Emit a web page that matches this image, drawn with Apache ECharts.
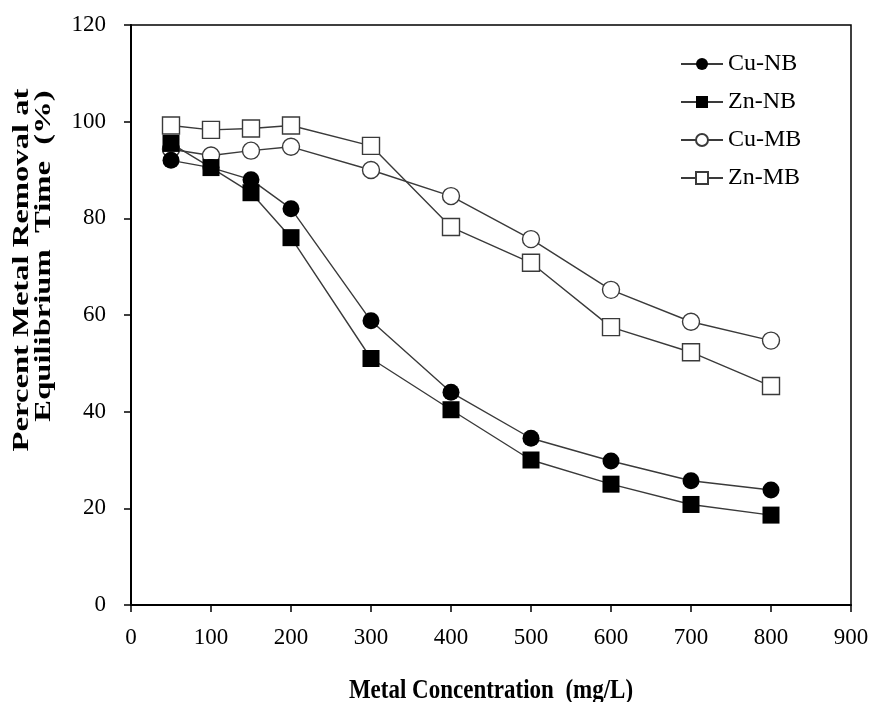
<!DOCTYPE html>
<html>
<head>
<meta charset="utf-8">
<script src="https://cdn.jsdelivr.net/npm/echarts@6/dist/echarts.min.js"></script>
<style>html,body{margin:0;padding:0;background:#fff;}#c{width:873px;height:702px;}</style>
</head>
<body>
<div id="c"></div>
<script>
const concentrations = [50, 100, 150, 200, 300, 400, 500, 600, 700, 800];
const cuNB = [92, 90.5, 88, 82, 58.8, 44, 34.5, 29.8, 25.7, 23.8];
const znNB = [95.5, 90.5, 85.3, 76, 51, 40.4, 30, 25, 20.8, 18.6];
const cuMB = [94.3, 93, 94, 94.8, 90, 84.6, 75.7, 65.2, 58.6, 54.7];
const znMB = [99.2, 98.3, 98.6, 99.2, 95, 78.2, 70.8, 57.5, 52.3, 45.3];
const seriesNames = ['Cu-NB', 'Zn-NB', 'Cu-MB', 'Zn-MB'];
const xTicks = [0, 100, 200, 300, 400, 500, 600, 700, 800, 900];
const yTicks = [0, 20, 40, 60, 80, 100, 120];
const xTitle = 'Metal Concentration  (mg/L)';
const yTitle1 = 'Percent Metal Removal at';
const yTitle2 = 'Equilibrium  Time  (%)';

const font = 'Liberation Serif, Times New Roman, serif';
function pairs(arr){ return concentrations.map((x,i)=>[x, arr[i]]); }
function mk(name, data, symbol, filled){
  return {
    name, type:'line', data:pairs(data), symbol, symbolSize:17,
    lineStyle:{color:'#3a3a3a', width:1.4},
    itemStyle:{color: filled ? '#000' : '#fff', borderColor: filled ? '#000' : '#3a3a3a', borderWidth: filled ? 0 : 1.4},
    z: filled ? 3 : 2
  };
}
const chart = echarts.init(document.getElementById('c'));
chart.setOption({
  animation:false,
  backgroundColor:'#fff',
  grid:{left:131, right:22, top:25, bottom:97, show:true, borderColor:'#000', borderWidth:1.5, backgroundColor:'transparent'},
  xAxis:{type:'value', min:xTicks[0], max:xTicks[xTicks.length-1], interval:100,
    axisLine:{lineStyle:{color:'#000', width:2}},
    axisTick:{inside:false, length:7, lineStyle:{color:'#000', width:1.5}},
    axisLabel:{color:'#000', fontFamily:font, fontSize:23, margin:21},
    splitLine:{show:false}
  },
  yAxis:{type:'value', min:yTicks[0], max:yTicks[yTicks.length-1], interval:20,
    axisLine:{lineStyle:{color:'#000', width:2}},
    axisTick:{inside:false, length:7, lineStyle:{color:'#000', width:1.5}},
    axisLabel:{color:'#000', fontFamily:font, fontSize:23, margin:25},
    splitLine:{show:false}
  },
  legend:{orient:'vertical', left:675, top:47, itemGap:14, itemWidth:42, itemHeight:15,
    data:seriesNames,
    textStyle:{color:'#000', fontFamily:font, fontSize:24, lineHeight:24}},
  graphic:[
    {type:'text', x:22, y:270, rotation:Math.PI/2, scaleX:1.36,
      style:{text:yTitle1, fill:'#000', font:'bold 24px ' + font, align:'center', verticalAlign:'middle', textAlign:'center', textVerticalAlign:'middle'}},
    {type:'text', x:44, y:256, rotation:Math.PI/2, scaleX:1.36,
      style:{text:yTitle2, fill:'#000', font:'bold 24px ' + font, align:'center', verticalAlign:'middle', textAlign:'center', textVerticalAlign:'middle'}},
    {type:'text', x:491, y:691, scaleY:1.15,
      style:{text:xTitle, fill:'#000', font:'bold 23px ' + font, align:'center', verticalAlign:'middle', textAlign:'center', textVerticalAlign:'middle'}}
  ],
  series:[
    mk(seriesNames[2], cuMB, 'circle', false),
    mk(seriesNames[3], znMB, 'rect', false),
    mk(seriesNames[0], cuNB, 'circle', true),
    mk(seriesNames[1], znNB, 'rect', true)
  ]
});
</script>
</body>
</html>
